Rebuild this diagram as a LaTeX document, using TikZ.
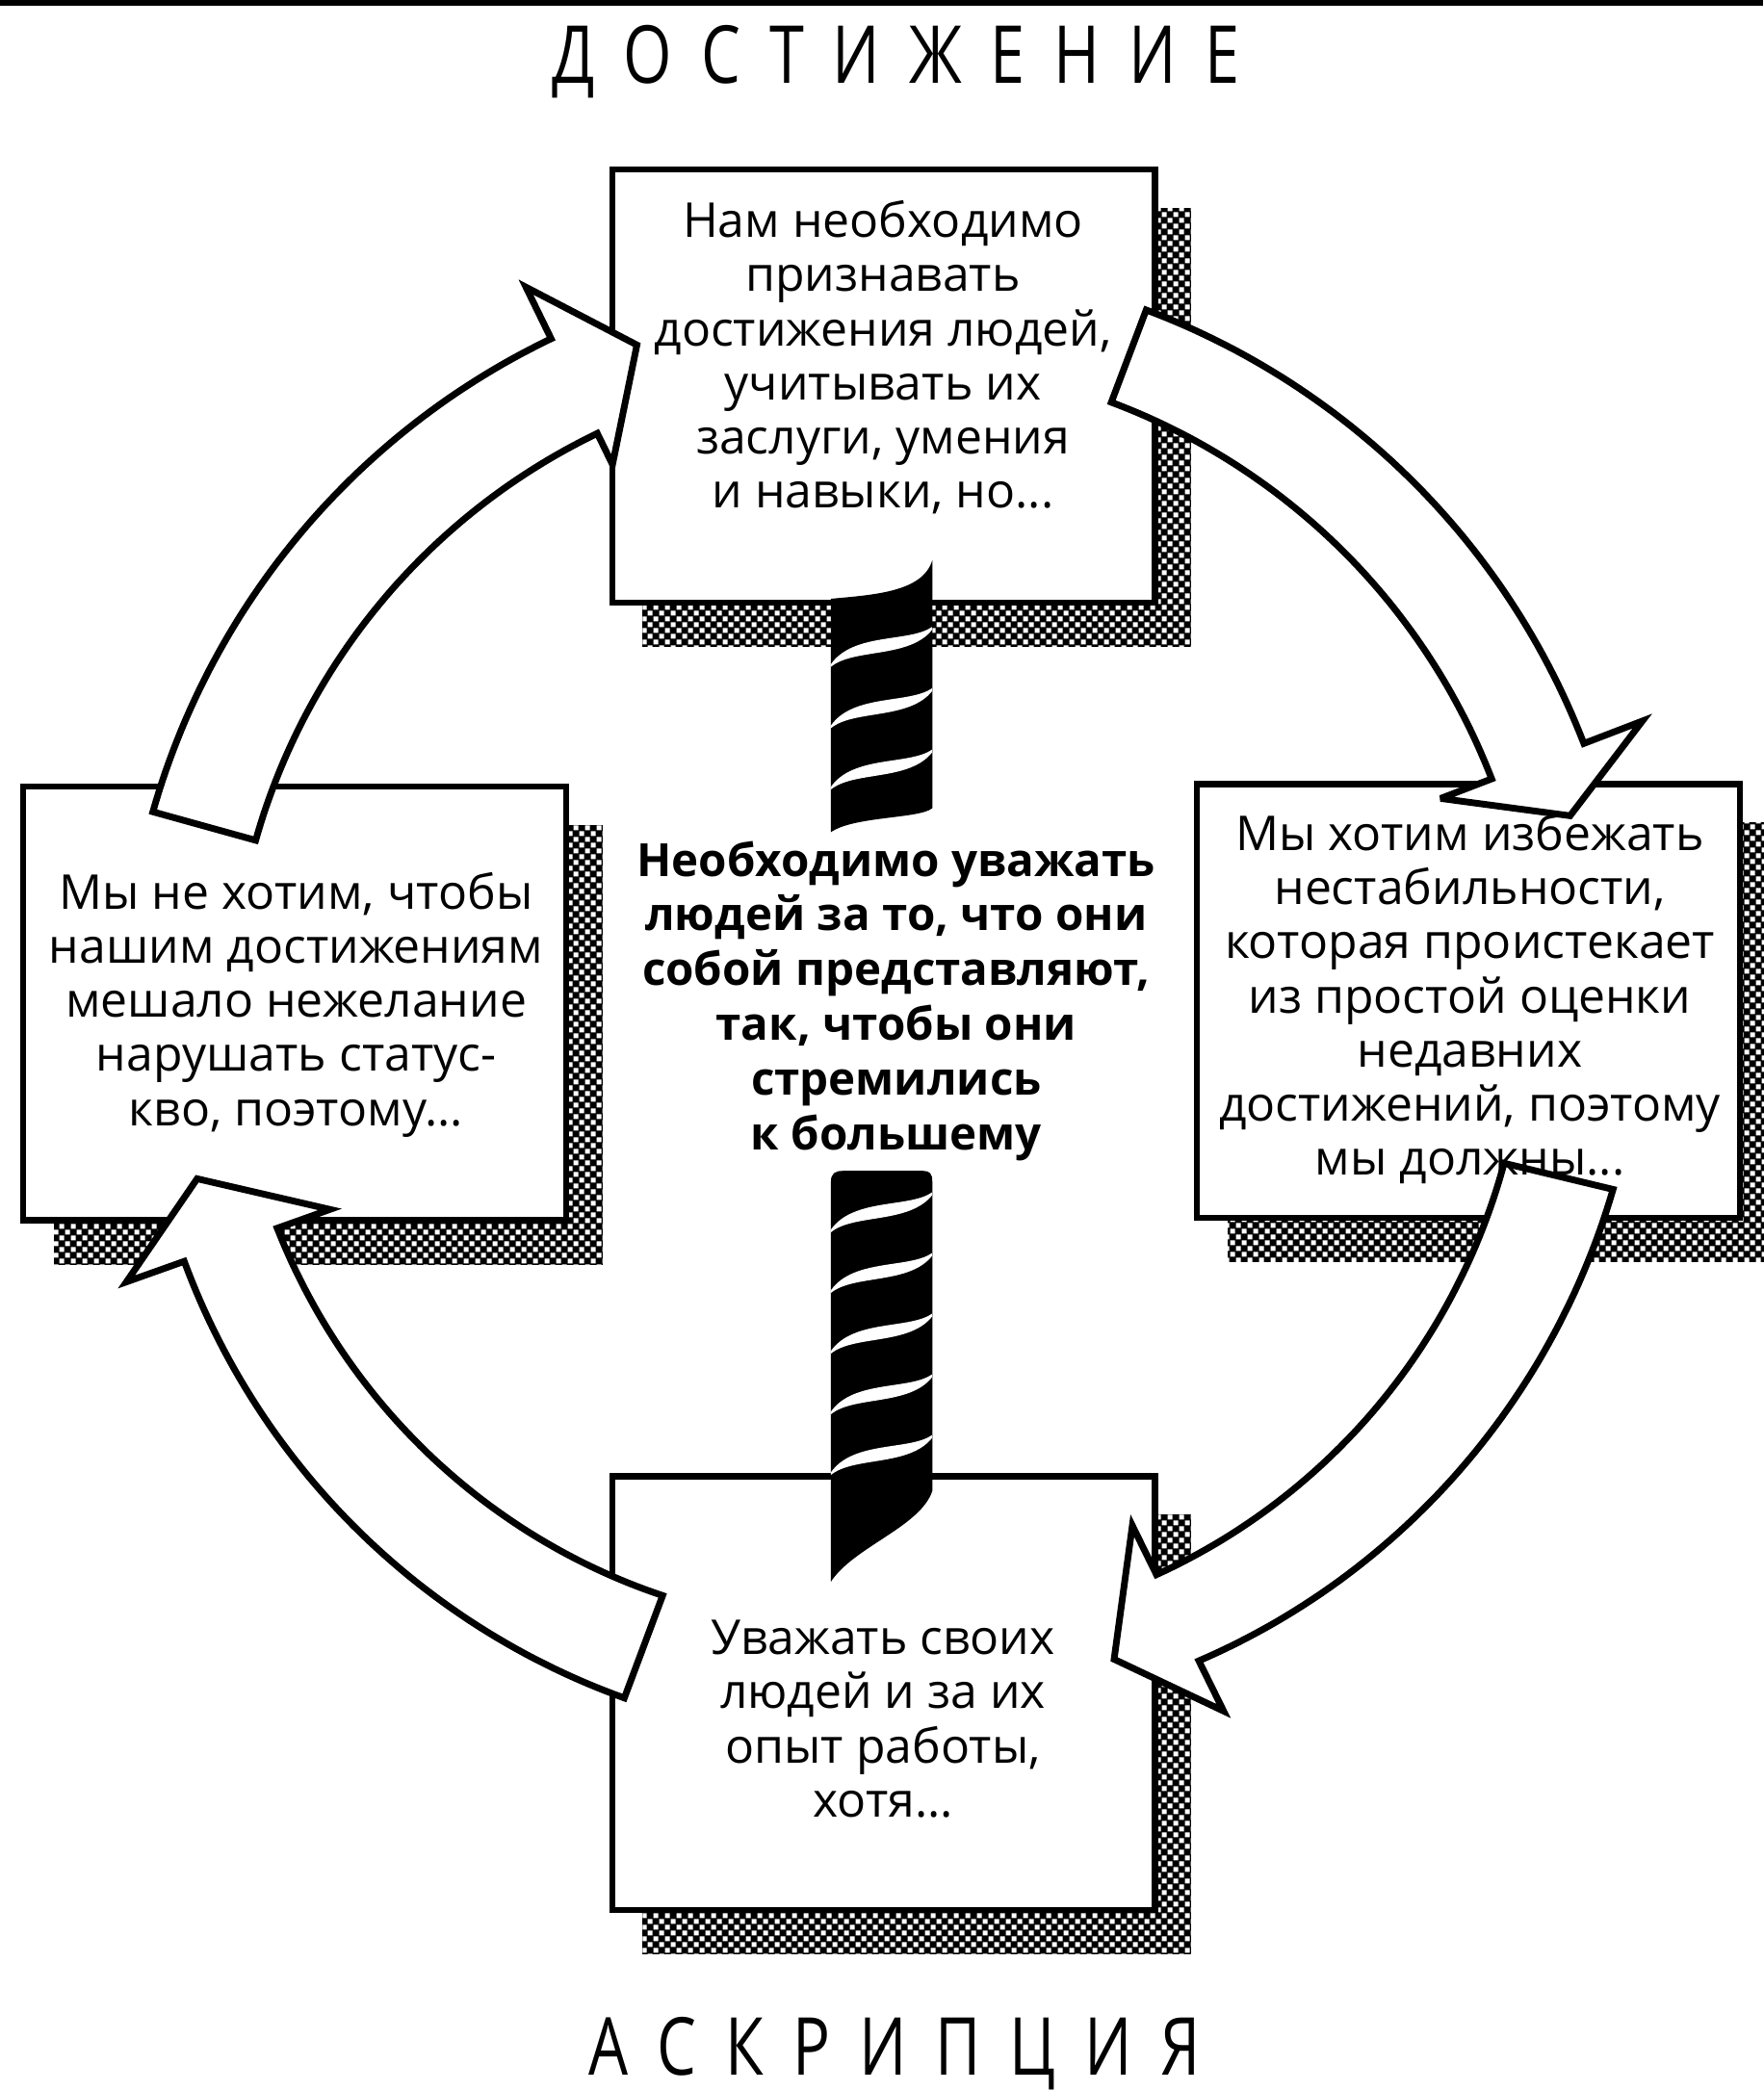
\documentclass[tikz,border=0pt]{standalone}
\usepackage{fontspec}
\setmainfont{Open Sans}
\newfontfamily\titlefont[FakeStretch=0.78,LetterSpace=36]{Open Sans}
\usetikzlibrary{calc,patterns.meta}
\pgfdeclarelayer{bg}
\pgfsetlayers{bg,main}
\tikzdeclarepattern{name=shadowdots,type=uncolored,
  bounding box={(0pt,0pt) and (9pt,9pt)},tile size={(9pt,9pt)},
  code={\fill (0.5pt,0.5pt) rectangle (4.3pt,4.3pt);
        \fill (5pt,5pt) rectangle (8.8pt,8.8pt);}}
\def\ringx{660}
\def\ringy{760}
% ring arrow: #1 tail angle, #2 base angle, #3 tip angle,
% #4/#5 outer/inner radius at tail, #6/#7 outer/inner radius at head,
% #8/#9 radius of outer/inner barb
\newcommand\ringarrow[9]{%
  \pgfmathsetmacro\rtip{(#6+#7)/2+10}%
  \draw[ringarrow]
    plot[domain=#1:#2, samples=60]
      ({\ringx+(#4+(#6-(#4))*(\x-(#1))/((#2)-(#1)))*cos(\x)},
       {\ringy+(#4+(#6-(#4))*(\x-(#1))/((#2)-(#1)))*sin(\x)})
    -- ($(ring)+(#2:#8)$) -- ($(ring)+(#3:\rtip)$) -- ($(ring)+(#2:#9)$)
    -- plot[domain=#2:#1, samples=60]
      ({\ringx+(#5+(#7-(#5))*(\x-(#1))/((#2)-(#1)))*cos(\x)},
       {\ringy+(#5+(#7-(#5))*(\x-(#1))/((#2)-(#1)))*sin(\x)})
    -- cycle;}
% white twist of the rope, left end at y=#1
\newcommand\ropestripe[1]{%
  \fill[white] (623,#1-2) .. controls (640,#1-26) and (682,#1-18) .. (699,#1-30)
     -- (699,#1-28) .. controls (682,#1-6) and (640,#1-14) .. (623,#1) -- cycle;}
\begin{document}
\begin{tikzpicture}[x=1pt,y=-1pt,
  box/.style={draw=black, line width=4.5pt, fill=white, minimum width=407pt,
    minimum height=325pt, inner sep=0pt},
  boxtext/.style={align=center, font=\fontsize{36}{40.5}\selectfont, inner sep=0pt},
  centertext/.style={align=center, font=\bfseries\fontsize{34.3}{41}\selectfont, inner sep=0pt},
  titletext/.style={font=\titlefont\fontsize{60}{60}\selectfont, inner sep=0pt},
  ringarrow/.style={draw=black, line width=5pt, fill=white, line join=miter, miter limit=4},
  shadowfill/.style={pattern=shadowdots, pattern color=white}]
\useasboundingbox (0,0) rectangle (1322,1568);
\begin{pgfonlayer}{bg}
  \fill[white] (0,0) rectangle (1322,1568);
\end{pgfonlayer}
\coordinate (ruleL) at (0,2);
\coordinate (ruleR) at (1322,2);
\draw[line width=4pt] (ruleL) -- (ruleR);

% boxes
\node[box] (topbox) at (662.5,289.5) {};
\node[box] (leftbox) at (221,752.5) {};
\node[box] (rightbox) at (1101,750.5) {};
\node[box] (botbox) at (662.5,1269.5) {};

% shadows
\begin{pgfonlayer}{bg}
\foreach \b in {topbox,leftbox,rightbox,botbox}{
  \fill[black] ($(\b.north west)+(25,31)$) rectangle ($(\b.south east)+(25,31)$);
  \fill[shadowfill] ($(\b.north west)+(25,31)$) rectangle ($(\b.south east)+(25,31)$);
}
\end{pgfonlayer}

% upper rope
\begin{scope}
  \path[clip] (623,449) .. controls (655,446) and (692,444) .. (699,420) -- (699,606)
     .. controls (690,614) and (640,612) .. (623,624) -- cycle;
  \fill[black] (600,400) rectangle (720,640);
  \foreach \yy in {500,546,592}{\ropestripe{\yy}}
\end{scope}
% lower rope
\begin{scope}
  \path[clip] (623,886) .. controls (623,880) and (626,878) .. (632,878) -- (692,878)
     .. controls (697,878) and (699,880) .. (699,886) -- (699,1118)
     .. controls (690,1145) and (640,1160) .. (623,1186) -- cycle;
  \fill[black] (600,860) rectangle (720,1200);
  \foreach \yy in {924,969.5,1015,1060.5,1106}{\ropestripe{\yy}}
\end{scope}

% cycle arrows
\coordinate (ring) at (\ringx,\ringy);
\ringarrow{-164.5}{-116}{-110}{566}{486}{563}{484}{606}{458}
\ringarrow{-69.3}{-21}{-16}{564}{490}{565}{491}{612}{450}
\ringarrow{13.5}{63.8}{70.1}{565}{481}{541}{469}{583}{428}
\ringarrow{110.5}{160.4}{166.4}{548}{466}{554}{480}{600}{438}

% texts
\node[titletext] (title1) at (672,46) {ДОСТИЖЕНИЕ};
\node[titletext] (title2) at (671,1540) {АСКРИПЦИЯ};
\node[boxtext] (toptext) at (662,268) {Нам необходимо\\признавать\\достижения людей,\\учитывать их\\заслуги, умения\\и навыки, но...};
\node[boxtext] (lefttext) at (222,753.5) {Мы не хотим, чтобы\\нашим достижениям\\мешало нежелание\\нарушать статус-\\кво, поэтому...};
\node[boxtext] (righttext) at (1102,749) {Мы хотим избежать\\нестабильности,\\которая проистекает\\из простой оценки\\недавних\\достижений, поэтому\\мы должны...};
\node[boxtext] (bottext) at (662,1289) {Уважать своих\\людей и за их\\опыт работы,\\хотя...};
\node[centertext] (midtext) at (672,750.5) {Необходимо уважать\\людей за то, что они\\собой представляют,\\так, чтобы они\\стремились\\к большему};
\end{tikzpicture}
\end{document}
